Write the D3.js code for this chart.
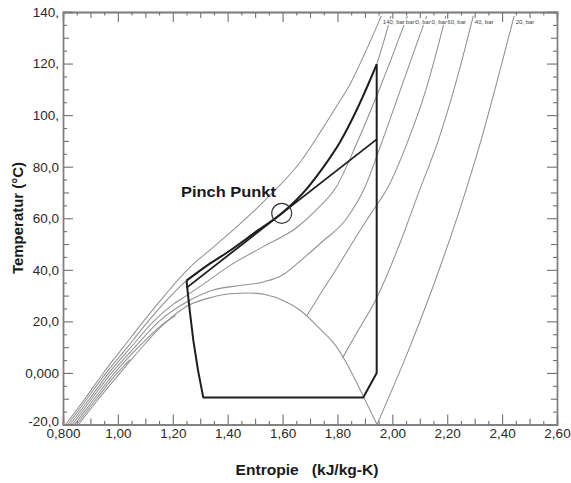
<!DOCTYPE html>
<html>
<head>
<meta charset="utf-8">
<script src="https://cdn.jsdelivr.net/npm/d3@7"></script>
<style>
  body { margin: 0; background: #fff; }
  text { font-family: "Liberation Sans", Arial, Helvetica, sans-serif; }
</style>
</head>
<body>
<div id="chart"></div>
<script>
const width = 571
const height = 483

// ejes
const xTicks = [0.8, 1.0, 1.2, 1.4, 1.6, 1.8, 2.0, 2.2, 2.4, 2.6]
const xTickLabels = ["0,800", "1,00", "1,20", "1,40", "1,60", "1,80", "2,00", "2,20", "2,40", "2,60"]
const yTicks = [-20, 0, 20, 40, 60, 80, 100, 120, 140]
const yTickLabels = ["-20,0", "0,000", "20,0", "40,0", "60,0", "80,0", "100,", "120,", "140,"]

// isobaras (s kJ/kg-K, T °C)
const dome = [[0.857,-20],[0.93,-10],[1.008,0],[1.08,9],[1.153,17.5],[1.25,25.8],[1.34,29.3],[1.41,30.7],[1.48,31],[1.54,30.3],[1.60,28.2],[1.664,24.3],[1.73,17.8],[1.797,10.1],[1.85,0.5],[1.893,-8.8],[1.944,-20]]
const iso140 = [[0.810,-20],[0.88,-10],[0.947,0],[1.02,10],[1.093,20],[1.17,30],[1.251,39.8],[1.35,49],[1.445,57.8],[1.55,68.5],[1.664,81.7],[1.737,93.3],[1.80,104],[1.846,112],[1.90,124],[1.96,138.5]]
const iso120 = [[0.818,-20],[0.888,-10],[0.957,0],[1.035,10],[1.11,20],[1.185,29],[1.250,35.8],[1.33,42],[1.409,47.5],[1.50,54.5],[1.597,61.9],[1.688,71.4],[1.75,80],[1.809,89.5],[1.87,102],[1.943,119.7],[1.995,138.5]]
const iso100 = [[0.826,-20],[0.897,-10],[0.967,0],[1.048,10],[1.13,20],[1.20,26.5],[1.25,30],[1.33,35.8],[1.409,41.7],[1.53,49],[1.652,56.4],[1.73,64],[1.795,72],[1.87,89],[1.96,112],[2.055,138.5]]
const iso80 = [[0.834,-20],[0.905,-10],[0.977,0],[1.062,10],[1.15,20],[1.25,27.5],[1.35,32.3],[1.445,33.9],[1.53,35.3],[1.60,38],[1.652,42.3],[1.74,50.5],[1.834,60],[1.90,72],[1.96,89],[2.04,113],[2.125,138.5]]
const iso60 = [[1.689,22.3],[1.74,31],[1.80,41],[1.86,51.5],[1.92,61.5],[1.984,72],[2.057,90],[2.12,109],[2.195,138.5]]
const iso40 = [[1.820,6.1],[1.87,15.5],[1.944,29.3],[2.027,50.1],[2.101,71.4],[2.167,90],[2.23,112],[2.295,138.5]]
const iso20 = [[1.944,-20],[2.0635,10],[2.1735,40.9],[2.2617,68.7],[2.3226,90],[2.3867,115.1],[2.444,138.5]]
const liq60 = [[0.842,-20],[0.914,-10],[0.988,0],[1.075,10],[1.165,19],[1.21,22.3]]
const liq40 = [[0.850,-20],[0.922,-10],[0.998,0],[1.045,5.3]]

const isobars = [iso140, iso120, iso100, iso80, iso60, iso40, iso20]
const isobarLabels = ["140, bar", "120, bar", "100, bar", "80, bar", "60, bar", "40, bar", "20, bar"]

// ciclo
const gasCooler = iso120.slice(6, 16)
const cycle = [[1.250,35.8],[1.262,24],[1.275,12.5],[1.292,1],[1.311,-9.5],[1.894,-9.5],[1.943,0],[1.943,119.7]]
const waterLine = [[1.250,33.0],[1.944,90.7]]
const pinch = [1.597, 61.9]

const svg = d3.select("div#chart")
    .append("svg")
    .attr("width", width)
    .attr("height", height)

const x = d3.scaleLinear().domain([0.8, 2.6]).range([63, 557])
const y = d3.scaleLinear().domain([-20, 140]).range([424.5, 12])

svg.append("clipPath").attr("id", "plot")
    .append("rect")
    .attr("x", 63).attr("y", 12)
    .attr("width", 494).attr("height", 412.5)

const frameColor = "#808080"

// ticks hacia dentro
function inward(axis, vals, size, labels) {
    return axis.tickValues(vals).tickSize(-size)
        .tickFormat(labels ? (d, i) => labels[i] : "")
}
const xMinor = d3.range(0.85, 2.6, 0.1)
const xMid = d3.range(0.9, 2.6, 0.2)
const yMinor = d3.range(-15, 140, 10)
const yMid = d3.range(-10, 140, 20)

const axisGroup = svg.append("g")
const bottomAxis = axisGroup.append("g").attr("transform", "translate(0,424.5)")
bottomAxis.append("g").call(inward(d3.axisBottom(x), xTicks, 10, xTickLabels).tickPadding(4))
bottomAxis.append("g").call(inward(d3.axisBottom(x), xMid, 6))
bottomAxis.append("g").call(inward(d3.axisBottom(x), xMinor, 3.5))

const topAxis = axisGroup.append("g").attr("transform", "translate(0,12)")
topAxis.append("g").call(inward(d3.axisTop(x), xTicks, 10))
topAxis.append("g").call(inward(d3.axisTop(x), xMid, 6))
topAxis.append("g").call(inward(d3.axisTop(x), xMinor, 3.5))

const leftAxis = axisGroup.append("g").attr("transform", "translate(63,0)")
leftAxis.append("g").call(inward(d3.axisLeft(y), yTicks, 10, yTickLabels).tickPadding(4))
leftAxis.append("g").call(inward(d3.axisLeft(y), yMid, 6))
leftAxis.append("g").call(inward(d3.axisLeft(y), yMinor, 4))

const rightAxis = axisGroup.append("g").attr("transform", "translate(557,0)")
rightAxis.append("g").call(inward(d3.axisRight(y), yTicks, 10))
rightAxis.append("g").call(inward(d3.axisRight(y), yMid, 6))
rightAxis.append("g").call(inward(d3.axisRight(y), yMinor, 4))

axisGroup.selectAll("path.domain").attr("stroke", frameColor).attr("stroke-width", 1.3)
axisGroup.selectAll(".tick line").attr("stroke", "#707070").attr("stroke-width", 1.1)
axisGroup.selectAll(".tick text")
    .attr("font-size", 13.5)
    .attr("fill", "#2a2a2a")
    .attr("font-family", "Liberation Sans, Arial, sans-serif")
// el -20,0 queda un poco por encima del 0,800 como en el original
leftAxis.selectAll(".tick text").filter(d => d === -20).attr("dy", "0.1em")

const line = d3.line()
    .x(d => x(d[0]))
    .y(d => y(d[1]))
    .curve(d3.curveMonotoneX)

const elementGroup = svg.append("g").attr("clip-path", "url(#plot)")

// lineas grises
elementGroup.selectAll("path.iso")
    .data([dome, liq40, liq60].concat(isobars))
    .join("path")
    .attr("class", "iso")
    .attr("d", line)
    .attr("fill", "none")
    .attr("stroke", "#909090")
    .attr("stroke-width", 1.05)

// ciclo en negro
const dark = "#1e1e1e"
elementGroup.append("path")
    .attr("d", line(gasCooler))
    .attr("fill", "none").attr("stroke", dark).attr("stroke-width", 2)
elementGroup.append("path")
    .attr("d", line.curve(d3.curveLinear)(cycle))
    .attr("fill", "none").attr("stroke", dark).attr("stroke-width", 2)
    .attr("stroke-linejoin", "round")
elementGroup.append("path")
    .attr("d", line(waterLine))
    .attr("fill", "none").attr("stroke", dark).attr("stroke-width", 1.8)

svg.append("circle")
    .attr("cx", x(pinch[0]))
    .attr("cy", y(pinch[1]))
    .attr("r", 10)
    .attr("fill", "none")
    .attr("stroke", "#333")
    .attr("stroke-width", 1.2)

svg.append("text")
    .attr("x", 181)
    .attr("y", 196.5)
    .attr("font-size", 15)
    .attr("font-weight", "bold")
    .attr("fill", "#1a1a1a")
    .attr("textLength", 95)
    .attr("lengthAdjust", "spacingAndGlyphs")
    .text("Pinch Punkt")

// etiquetas de las isobaras, de derecha a izquierda para que la de la izquierda quede encima
const labelGroup = svg.append("g")
isobars.map((iso, i) => ({ end: iso[iso.length - 1], label: isobarLabels[i] }))
    .reverse()
    .forEach(d => {
        const g = labelGroup.append("g")
            .attr("transform", `translate(${x(d.end[0]) + 1.5},${y(d.end[1]) + 8})`)
        const rect = g.append("rect").attr("fill", "#fff")
        const t = g.append("text")
            .attr("font-size", 6)
            .attr("fill", "#444")
            .text(d.label)
        const b = t.node().getBBox()
        rect.attr("x", b.x - 0.5).attr("y", b.y).attr("width", b.width + 1).attr("height", b.height)
    })

// titulos
svg.append("text")
    .attr("transform", "translate(23,218) rotate(-90)")
    .attr("text-anchor", "middle")
    .attr("font-size", 14)
    .attr("font-weight", "bold")
    .attr("fill", "#1a1a1a")
    .attr("textLength", 112)
    .attr("lengthAdjust", "spacingAndGlyphs")
    .text("Temperatur (°C)")

svg.append("text")
    .attr("x", 307)
    .attr("y", 475)
    .attr("text-anchor", "middle")
    .attr("font-size", 14.5)
    .attr("font-weight", "bold")
    .attr("fill", "#1a1a1a")
    .attr("textLength", 143)
    .attr("lengthAdjust", "spacingAndGlyphs")
    .style("white-space", "pre")
    .text("Entropie   (kJ/kg-K)")
</script>
</body>
</html>
